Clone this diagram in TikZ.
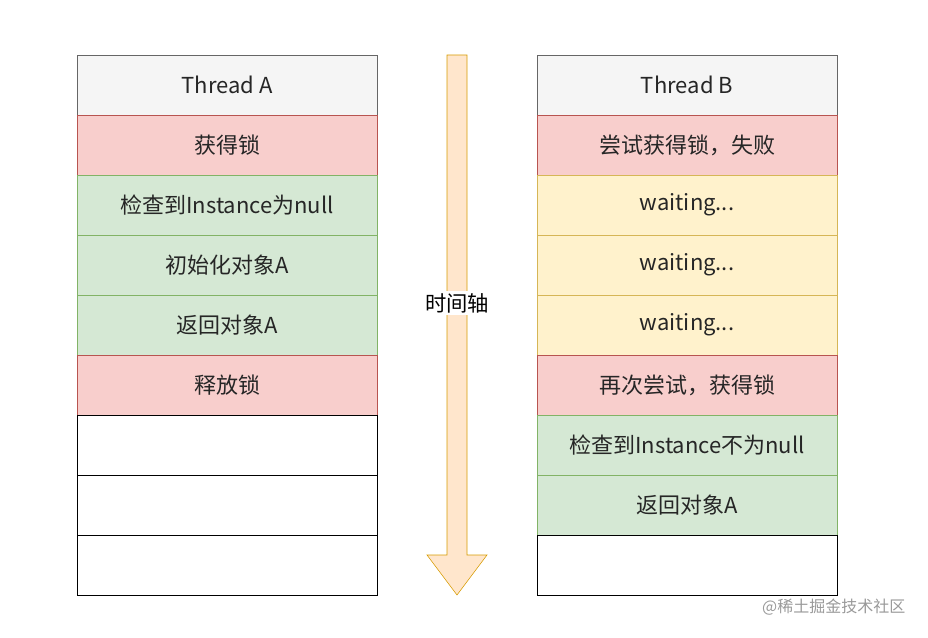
\documentclass[tikz,border=0pt]{standalone}
\usepackage{fontspec}
\setmainfont{Noto Sans CJK SC}
\usetikzlibrary{positioning}
\definecolor{hdfill}{HTML}{F5F5F5}\definecolor{hddraw}{HTML}{666666}
\definecolor{rdfill}{HTML}{F8CECC}\definecolor{rddraw}{HTML}{B85450}
\definecolor{gnfill}{HTML}{D5E8D4}\definecolor{gndraw}{HTML}{82B366}
\definecolor{ylfill}{HTML}{FFF2CC}\definecolor{yldraw}{HTML}{D6B656}
\definecolor{arfill}{HTML}{FFE6CC}\definecolor{ardraw}{HTML}{D79B00}
\begin{document}
\begin{tikzpicture}[
      x=0.75pt, y=-0.75pt,
      cell/.style={
        rectangle,
        draw=black,
        thin,
        minimum width=225pt,
        minimum height=45pt,
        inner sep=0pt,
        outer sep=0pt,
        font=\fontsize{16.5}{18}\selectfont,
        text=black!85
      },
      head/.style={cell, fill=hdfill, draw=hddraw},
      lock/.style={cell, fill=rdfill, draw=rddraw},
      work/.style={cell, fill=gnfill, draw=gndraw},
      wait/.style={cell, fill=ylfill, draw=yldraw},
      node distance=0pt
    ]
    \useasboundingbox (0,0) rectangle (928,638);

    % Thread A
    \node[head] (A0) at (227,85) {Thread A};
    \node[lock, below=of A0] (A1) {获得锁};
    \node[work, below=of A1] (A2) {检查到Instance为null};
    \node[work, below=of A2] (A3) {初始化对象A};
    \node[work, below=of A3] (A4) {返回对象A};
    \node[lock, below=of A4] (A5) {释放锁};
    \node[cell, below=of A5] (A6) {};
    \node[cell, below=of A6] (A7) {};
    \node[cell, below=of A7] (A8) {};

    % Thread B
    \node[head] (B0) at (687,85) {Thread B};
    \node[lock, below=of B0] (B1) {尝试获得锁，失败};
    \node[wait, below=of B1] (B2) {waiting...};
    \node[wait, below=of B2] (B3) {waiting...};
    \node[wait, below=of B3] (B4) {waiting...};
    \node[lock, below=of B4] (B5) {再次尝试，获得锁};
    \node[work, below=of B5] (B6) {检查到Instance不为null};
    \node[work, below=of B6] (B7) {返回对象A};
    \node[cell, below=of B7] (B8) {};

    % Time axis
    \coordinate (Tip) at (457,595);
    \draw[fill=arfill, draw=ardraw, thin] (447,55) -- (467,55) -- (467,555) -- (487,555)
      -- (Tip) -- (427,555) -- (447,555) -- cycle;
    \node[fill=white, inner sep=2pt, font=\fontsize{16}{18}\selectfont] (Axis) at (457,303) {时间轴};

    % Watermark
    \node[anchor=east, text=black!40, font=\fontsize{12}{14}\selectfont] (Mark) at (910,607) {@稀土掘金技术社区};
\end{tikzpicture}
\end{document}
